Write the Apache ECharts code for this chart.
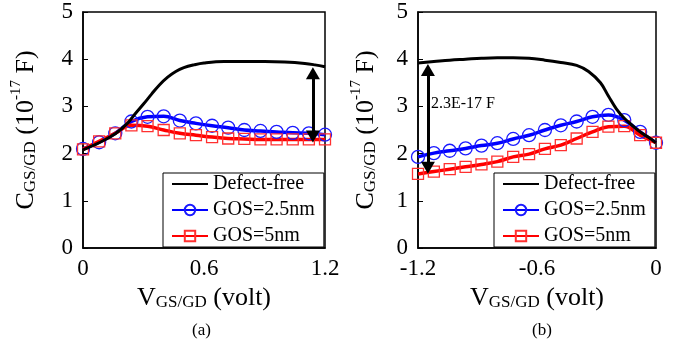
<!DOCTYPE html>
<html>
<head>
<meta charset="utf-8">
<script src="https://cdn.jsdelivr.net/npm/echarts@6/dist/echarts.min.js"></script>
<style>
html,body{margin:0;padding:0;background:#fff;}
#c{width:678px;height:343px;}
</style>
</head>
<body>
<div id="c"></div>
<script>
// ---------- data ----------
const legendNames = ['Defect-free', 'GOS=2.5nm', 'GOS=5nm'];

// Panel (a)
const xMarkA = [0, 0.08, 0.16, 0.24, 0.32, 0.40, 0.48, 0.56, 0.64, 0.72, 0.80, 0.88, 0.96, 1.04, 1.12, 1.2];
const blueA  = [2.10, 2.24, 2.43, 2.68, 2.78, 2.79, 2.70, 2.64, 2.59, 2.55, 2.50, 2.48, 2.46, 2.44, 2.43, 2.40];
const redA   = [2.09, 2.26, 2.43, 2.60, 2.58, 2.50, 2.43, 2.39, 2.35, 2.32, 2.31, 2.30, 2.30, 2.30, 2.30, 2.30];
const xBlackA = [0, 0.08, 0.16, 0.22, 0.26, 0.30, 0.34, 0.38, 0.42, 0.46, 0.50, 0.55, 0.60, 0.70, 0.80, 0.90, 1.00, 1.10, 1.15, 1.2];
const blackA  = [2.08, 2.23, 2.42, 2.64, 2.85, 3.05, 3.26, 3.46, 3.62, 3.74, 3.82, 3.88, 3.92, 3.95, 3.95, 3.95, 3.94, 3.91, 3.88, 3.84];

// Panel (b)
const xMarkB = [-1.2, -1.12, -1.04, -0.96, -0.88, -0.80, -0.72, -0.64, -0.56, -0.48, -0.40, -0.32, -0.24, -0.16, -0.08, 0];
const blueB  = [1.93, 2.01, 2.06, 2.11, 2.17, 2.22, 2.31, 2.39, 2.50, 2.60, 2.68, 2.78, 2.82, 2.71, 2.46, 2.23];
const redB   = [1.57, 1.62, 1.67, 1.72, 1.77, 1.83, 1.93, 1.99, 2.10, 2.18, 2.32, 2.46, 2.57, 2.58, 2.39, 2.23];
const xBlackB = [-1.2, -1.12, -1.04, -0.96, -0.88, -0.80, -0.72, -0.64, -0.56, -0.48, -0.40, -0.34, -0.28, -0.24, -0.20, -0.16, -0.12, -0.08, -0.04, 0];
const blackB  = [3.92, 3.95, 3.98, 4.00, 4.02, 4.03, 4.03, 4.02, 3.98, 3.93, 3.87, 3.74, 3.50, 3.22, 2.95, 2.75, 2.60, 2.46, 2.35, 2.23];

// annotation arrows: [x, yTop, yBottom]
const arrowA = [1.14, 3.70, 2.36];
const arrowB = [-1.15, 3.77, 1.70];
const arrowTextB = '2.3E-17 F';

// axis ticks
const xTicksA = {min: 0, max: 1.2, interval: 0.6};
const xTicksB = {min: -1.2, max: 0, interval: 0.6};
const yTicks = {min: 0, max: 5, interval: 1};

// ---------- chart ----------
const FONT = "'Liberation Serif', 'Times New Roman', serif";
const zip = (xs, ys) => xs.map((x, i) => [x, ys[i]]);

const richName = {
  c: {fontSize: 26, fontFamily: FONT, color: '#000', verticalAlign: 'bottom', lineHeight: 30},
  s: {fontSize: 17, fontFamily: FONT, color: '#000', verticalAlign: 'bottom', lineHeight: 24},
  p: {fontSize: 15, fontFamily: FONT, color: '#000', verticalAlign: 'top', lineHeight: 30}
};
const richTick = {t: {fontSize: 23, fontFamily: FONT, color: '#000'}};
const richLegend = {t: {fontSize: 20, fontFamily: FONT, color: '#000', lineHeight: 19}};

function xAxisCfg(idx, t) {
  return {
    type: 'value', gridIndex: idx, min: t.min, max: t.max, interval: t.interval,
    axisLine: {show: true, onZero: false, lineStyle: {color: '#000', width: 1.5}},
    axisTick: {show: false},
    splitLine: {show: false},
    axisLabel: {fontSize: 23, fontFamily: FONT, color: '#000', margin: 9, rich: richTick,
      formatter: v => '{t|' + (Math.round(v * 10) / 10).toString() + '}'},
    name: '{c|V}{s|GS/GD}{c| (volt)}',
    nameLocation: 'middle', nameGap: 30,
    nameTextStyle: {rich: richName, fontFamily: FONT}
  };
}
function yAxisCfg(idx, gap) {
  return {
    type: 'value', gridIndex: idx, min: yTicks.min, max: yTicks.max, interval: yTicks.interval,
    axisLine: {show: true, onZero: false, lineStyle: {color: '#000', width: 1.5}},
    axisTick: {show: true, inside: true, length: 5, lineStyle: {color: '#000', width: 1}},
    splitLine: {show: false},
    axisLabel: {fontSize: 23, fontFamily: FONT, color: '#000', margin: 10, rich: richTick,
      formatter: v => '{t|' + v + '}'},
    name: '{c|C}{s|GS/GD}{c| (10}{p|-17}{c| F)}',
    nameLocation: 'middle', nameGap: gap, nameRotate: 90,
    nameTextStyle: {rich: richName, fontFamily: FONT}
  };
}
function legendCfg(left) {
  return {
    left: left, top: 173, orient: 'vertical',
    data: [
      {name: legendNames[0], itemStyle: {opacity: 0}},
      legendNames[1],
      legendNames[2]
    ],
    backgroundColor: '#fff',
    borderColor: '#000', borderWidth: 1, borderRadius: 0,
    padding: [1, 9, 1, 8],
    itemGap: 6, itemWidth: 36, itemHeight: 13,
    formatter: n => '{t|' + n + '}',
    textStyle: {fontSize: 20, fontFamily: FONT, color: '#000', lineHeight: 19, rich: richLegend},
    selectedMode: false
  };
}
function arrowLine(a) {
  return {
    silent: true,
    symbol: ['triangle', 'triangle'],
    symbolSize: [14, 12],
    lineStyle: {color: '#000', width: 3, type: 'solid'},
    label: {show: false},
    emphasis: {disabled: true},
    data: [[{coord: [a[0], a[1]]}, {coord: [a[0], a[2]]}]]
  };
}
function seriesFor(idx, xb, yb, xm, yB, yR, arrow) {
  return [
    {
      name: legendNames[0], type: 'line', xAxisIndex: idx, yAxisIndex: idx,
      data: zip(xb, yb), smooth: 0.4, symbol: 'none', showSymbol: false,
      lineStyle: {color: '#000', width: 3}, itemStyle: {color: '#000'},
      z: 3, markLine: arrowLine(arrow)
    },
    {
      name: legendNames[1], type: 'line', xAxisIndex: idx, yAxisIndex: idx,
      data: zip(xm, yB), smooth: 0.4, symbol: 'circle', symbolSize: 13,
      lineStyle: {color: '#0000ff', width: 3.5},
      itemStyle: {color: 'rgba(255,255,255,0)', borderColor: '#1a1aff', borderWidth: 1.3},
      z: 2
    },
    {
      name: legendNames[2], type: 'line', xAxisIndex: idx, yAxisIndex: idx,
      data: zip(xm, yR), smooth: 0.4, symbol: 'rect', symbolSize: 11,
      lineStyle: {color: '#ff0000', width: 3.5},
      itemStyle: {color: 'rgba(255,255,255,0)', borderColor: '#ff3030', borderWidth: 1.3},
      z: 2
    }
  ];
}

const chart = echarts.init(document.getElementById('c'), null, {renderer: 'canvas'});
chart.setOption({
  animation: false,
  backgroundColor: '#fff',
  textStyle: {fontFamily: FONT},
  grid: [
    {left: 83, top: 12, width: 242, height: 236, show: true, borderColor: '#000', borderWidth: 1.5, backgroundColor: 'transparent'},
    {left: 418, top: 12, width: 238, height: 236, show: true, borderColor: '#000', borderWidth: 1.5, backgroundColor: 'transparent'}
  ],
  xAxis: [xAxisCfg(0, xTicksA), xAxisCfg(1, xTicksB)],
  yAxis: [yAxisCfg(0, 44), yAxisCfg(1, 39)],
  legend: [legendCfg(163), legendCfg(494)],
  series: [
    ...seriesFor(0, xBlackA, blackA, xMarkA, blueA, redA, arrowA),
    ...seriesFor(1, xBlackB, blackB, xMarkB, blueB, redB, arrowB)
  ],
  graphic: [
    {type: 'text', left: 431, top: 96, style: {text: arrowTextB, font: "16px 'Liberation Serif'", fill: '#000'}},
    {type: 'text', left: 192, top: 322, style: {text: '(a)', font: "17px 'Liberation Serif'", fill: '#000'}},
    {type: 'text', left: 532, top: 322, style: {text: '(b)', font: "17px 'Liberation Serif'", fill: '#000'}}
  ]
});
</script>
</body>
</html>
